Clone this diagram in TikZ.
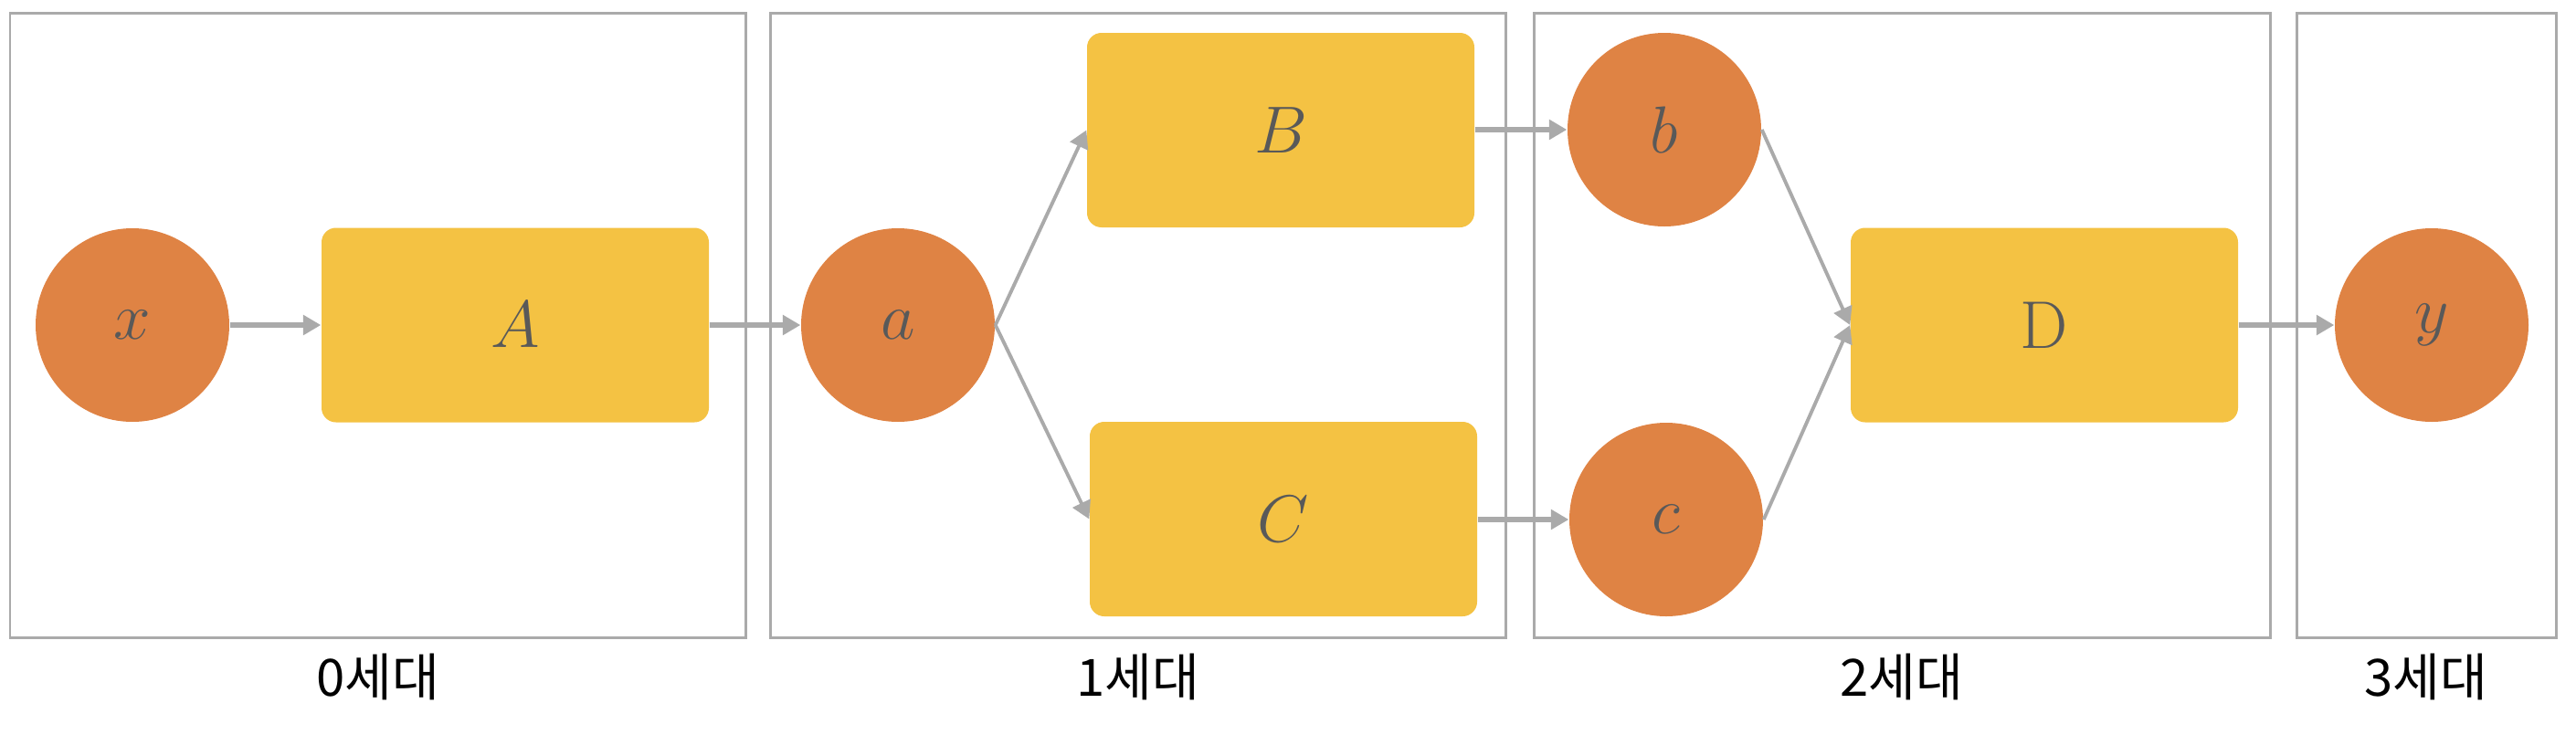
\documentclass[tikz,border=0pt]{standalone}
\usepackage{amsmath,amssymb}
\usepackage{fontspec}
\newfontfamily\krfont{Noto Sans CJK KR}
\usepackage{tikz}
\usetikzlibrary{positioning,calc}
\usetikzlibrary{arrows.meta}
\definecolor{GenOrange}{RGB}{223,131,68}
\definecolor{GenYellow}{RGB}{244,194,67}
\definecolor{GenGray}{RGB}{170,170,170}
\definecolor{LabGray}{RGB}{89,89,89}
\tikzset{
  var/.style={circle,fill=GenOrange,minimum size=2.12cm,inner sep=0pt,text=LabGray,
    font=\fontsize{21}{25}\selectfont},
  fn/.style={rectangle,fill=GenYellow,rounded corners=4.5pt,minimum width=4.24cm,
    minimum height=2.13cm,inner sep=0pt,text=LabGray,font=\fontsize{21}{25}\selectfont},
  gen/.style={draw=GenGray,line width=0.85pt},
  genlab/.style={font=\krfont\fontsize{16}{19}\selectfont,text=black},
}
\tikzset{flow/.style={draw=GenGray,line width=1.7pt,-{Triangle[length=5.5pt,width=6pt]}},
  slant/.style={draw=GenGray,line width=1.1pt,-{Triangle[length=5.5pt,width=6pt]}}}

\begin{document}
\begin{tikzpicture}
\useasboundingbox (0,0) rectangle (28.2,8.04);
% generation frames
\draw[gen] (0.11,1.06) rectangle (8.16,7.90);
\draw[gen] (8.43,1.06) rectangle (16.48,7.90);
\draw[gen] (16.79,1.06) rectangle (24.85,7.90);
\draw[gen] (25.14,1.06) rectangle (27.98,7.90);
\node[genlab] (g0) at (4.135,0.63) {0세대};
\node[genlab] (g1) at (12.455,0.63) {1세대};
\node[genlab] (g2) at (20.82,0.63) {2세대};
\node[genlab] (g3) at (26.56,0.63) {3세대};
% nodes
\node[var] (x) at (1.45,4.48) {$x$};
\node[fn] (A) at (5.64,4.48) {$A$};
\node[var] (a) at (9.83,4.48) {$a$};
\node[fn] (B) at (14.02,6.615) {$B$};
\node[fn] (C) at (14.05,2.355) {$C$};
\node[var] (b) at (18.22,6.62) {$b$};
\node[var] (c) at (18.24,2.35) {$c$};
\node[fn] (D) at (22.38,4.48) {$\mathrm{D}$};
\node[var] (y) at (26.62,4.48) {$y$};
% edges
\draw[flow] (x)--(A);
\draw[flow] (A)--(a);
\draw[slant] (a.east)--(B.west);
\draw[slant] (a.east)--(C.west);
\draw[flow] (B.east|-b)--(b);
\draw[flow] (C.east|-c)--(c);
\draw[slant] (b.east)--(D.west);
\draw[slant] (c.east)--(D.west);
\draw[flow] (D)--(y);
\end{tikzpicture}
\end{document}
